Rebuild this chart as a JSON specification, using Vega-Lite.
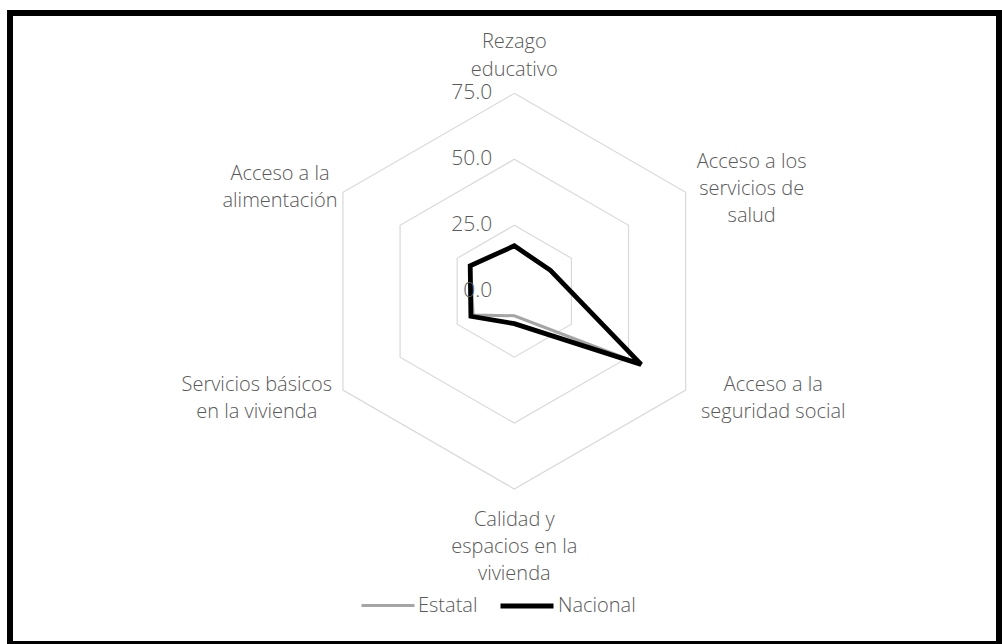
{
  "$schema": "https://vega.github.io/schema/vega-lite/v6.json",
  "width": 1002,
  "height": 644,
  "autosize": {"type": "fit", "contains": "padding"},
  "padding": {"left": 10, "top": 13, "right": 3, "bottom": 0},
  "background": "white",
  "config": {
    "view": {"stroke": "#000000", "strokeWidth": 6},
    "font": "Open Sans",
    "legend": {
      "orient": "none",
      "legendX": 350,
      "legendY": 564,
      "direction": "horizontal",
      "symbolType": "stroke",
      "symbolSize": 2809,
      "labelFontSize": 20,
      "labelFont": "Open Sans",
      "labelFontWeight": 300,
      "labelColor": "#595959",
      "labelOffset": 2,
      "columnPadding": 12,
      "padding": 0,
      "title": null
    }
  },
  "datasets": {
    "series": [
      {"serie": "Estatal", "indicador": "Rezago educativo", "orden": 0, "valor": 17.2},
      {"serie": "Estatal", "indicador": "Acceso a los servicios de salud", "orden": 1, "valor": 15.8},
      {"serie": "Estatal", "indicador": "Acceso a la seguridad social", "orden": 2, "valor": 55.0},
      {"serie": "Estatal", "indicador": "Calidad y espacios en la vivienda", "orden": 3, "valor": 9.3},
      {"serie": "Estatal", "indicador": "Servicios básicos en la vivienda", "orden": 4, "valor": 18.0},
      {"serie": "Estatal", "indicador": "Acceso a la alimentación", "orden": 5, "valor": 19.3},
      {"serie": "Nacional", "indicador": "Rezago educativo", "orden": 0, "valor": 17.2},
      {"serie": "Nacional", "indicador": "Acceso a los servicios de salud", "orden": 1, "valor": 15.8},
      {"serie": "Nacional", "indicador": "Acceso a la seguridad social", "orden": 2, "valor": 55.5},
      {"serie": "Nacional", "indicador": "Calidad y espacios en la vivienda", "orden": 3, "valor": 12.3},
      {"serie": "Nacional", "indicador": "Servicios básicos en la vivienda", "orden": 4, "valor": 19.0},
      {"serie": "Nacional", "indicador": "Acceso a la alimentación", "orden": 5, "valor": 19.3}
    ],
    "grid": [
      {"nivel": 25, "orden": 0}, {"nivel": 25, "orden": 1}, {"nivel": 25, "orden": 2},
      {"nivel": 25, "orden": 3}, {"nivel": 25, "orden": 4}, {"nivel": 25, "orden": 5},
      {"nivel": 50, "orden": 0}, {"nivel": 50, "orden": 1}, {"nivel": 50, "orden": 2},
      {"nivel": 50, "orden": 3}, {"nivel": 50, "orden": 4}, {"nivel": 50, "orden": 5},
      {"nivel": 75, "orden": 0}, {"nivel": 75, "orden": 1}, {"nivel": 75, "orden": 2},
      {"nivel": 75, "orden": 3}, {"nivel": 75, "orden": 4}, {"nivel": 75, "orden": 5}
    ],
    "ticks": [{"valor": 0}, {"valor": 25}, {"valor": 50}, {"valor": 75}],
    "labels": [
      {"orden": 0, "texto": ["Rezago", "educativo"]},
      {"orden": 1, "texto": ["Acceso a los", "servicios de", "salud"]},
      {"orden": 2, "texto": ["Acceso a la", "seguridad social"]},
      {"orden": 3, "texto": ["Calidad y", "espacios en la", "vivienda"]},
      {"orden": 4, "texto": ["Servicios básicos", "en la vivienda"]},
      {"orden": 5, "texto": ["Acceso a la", "alimentación"]}
    ]
  },
  "encoding": {
    "x": {"field": "px", "type": "quantitative", "scale": {"domain": [-191.17, 183.74], "nice": false, "zero": false}, "axis": null},
    "y": {"field": "py", "type": "quantitative", "scale": {"domain": [-133.74, 105.46], "nice": false, "zero": false}, "axis": null}
  },
  "layer": [
    {
      "data": {"name": "grid"},
      "transform": [
        {"calculate": "datum.nivel * sin(datum.orden * PI / 3)", "as": "px"},
        {"calculate": "datum.nivel * cos(datum.orden * PI / 3)", "as": "py"}
      ],
      "mark": {"type": "line", "interpolate": "linear-closed", "stroke": "#d9d9d9", "strokeWidth": 1.2},
      "encoding": {
        "detail": {"field": "nivel", "type": "nominal"},
        "order": {"field": "orden", "type": "quantitative"}
      }
    },
    {
      "data": {"name": "series"},
      "transform": [
        {"filter": "datum.serie == 'Estatal'"},
        {"calculate": "datum.valor * sin(datum.orden * PI / 3)", "as": "px"},
        {"calculate": "datum.valor * cos(datum.orden * PI / 3)", "as": "py"}
      ],
      "mark": {"type": "line", "interpolate": "linear-closed"},
      "encoding": {
        "color": {"field": "serie", "type": "ordinal", "scale": {"domain": ["Estatal", "Nacional"], "range": ["#a5a5a5", "#000000"]}},
        "strokeWidth": {"field": "serie", "type": "ordinal", "scale": {"domain": ["Estatal", "Nacional"], "range": [3, 4.8]}},
        "order": {"field": "orden", "type": "quantitative"}
      }
    },
    {
      "data": {"name": "series"},
      "transform": [
        {"filter": "datum.serie == 'Nacional'"},
        {"calculate": "datum.valor * sin(datum.orden * PI / 3)", "as": "px"},
        {"calculate": "datum.valor * cos(datum.orden * PI / 3)", "as": "py"}
      ],
      "mark": {"type": "line", "interpolate": "linear-closed"},
      "encoding": {
        "color": {"field": "serie", "type": "ordinal", "scale": {"domain": ["Estatal", "Nacional"], "range": ["#a5a5a5", "#000000"]}},
        "strokeWidth": {"field": "serie", "type": "ordinal", "scale": {"domain": ["Estatal", "Nacional"], "range": [3, 4.8]}},
        "order": {"field": "orden", "type": "quantitative"}
      }
    },
    {
      "data": {"name": "ticks"},
      "transform": [
        {"calculate": "0", "as": "px"},
        {"calculate": "datum.valor", "as": "py"}
      ],
      "mark": {"type": "text", "align": "right", "baseline": "middle", "dx": -22, "fontSize": 21, "fontWeight": 300, "color": "#595959"},
      "encoding": {"text": {"field": "valor", "type": "quantitative", "format": ".1f"}}
    },
    {
      "data": {"name": "labels"},
      "transform": [
        {"filter": "datum.orden == 0"},
        {"calculate": "75 * sin(datum.orden * PI / 3)", "as": "px"},
        {"calculate": "75 * cos(datum.orden * PI / 3)", "as": "py"}
      ],
      "mark": {"type": "text", "align": "center", "baseline": "alphabetic", "dx": 0, "dy": -45, "lineHeight": 28, "fontSize": 20, "fontWeight": 300, "color": "#595959"},
      "encoding": {"text": {"field": "texto"}}
    },
    {
      "data": {"name": "labels"},
      "transform": [
        {"filter": "datum.orden == 1"},
        {"calculate": "75 * sin(datum.orden * PI / 3)", "as": "px"},
        {"calculate": "75 * cos(datum.orden * PI / 3)", "as": "py"}
      ],
      "mark": {"type": "text", "align": "center", "baseline": "alphabetic", "dx": 66, "dy": -24.5, "lineHeight": 27, "fontSize": 20, "fontWeight": 300, "color": "#595959"},
      "encoding": {"text": {"field": "texto"}}
    },
    {
      "data": {"name": "labels"},
      "transform": [
        {"filter": "datum.orden == 2"},
        {"calculate": "75 * sin(datum.orden * PI / 3)", "as": "px"},
        {"calculate": "75 * cos(datum.orden * PI / 3)", "as": "py"}
      ],
      "mark": {"type": "text", "align": "center", "baseline": "alphabetic", "dx": 87.6, "dy": 0.5, "lineHeight": 27, "fontSize": 20, "fontWeight": 300, "color": "#595959"},
      "encoding": {"text": {"field": "texto"}}
    },
    {
      "data": {"name": "labels"},
      "transform": [
        {"filter": "datum.orden == 3"},
        {"calculate": "75 * sin(datum.orden * PI / 3)", "as": "px"},
        {"calculate": "75 * cos(datum.orden * PI / 3)", "as": "py"}
      ],
      "mark": {"type": "text", "align": "center", "baseline": "alphabetic", "dx": 0, "dy": 36.6, "lineHeight": 27, "fontSize": 20, "fontWeight": 300, "color": "#595959"},
      "encoding": {"text": {"field": "texto"}}
    },
    {
      "data": {"name": "labels"},
      "transform": [
        {"filter": "datum.orden == 4"},
        {"calculate": "75 * sin(datum.orden * PI / 3)", "as": "px"},
        {"calculate": "75 * cos(datum.orden * PI / 3)", "as": "py"}
      ],
      "mark": {"type": "text", "align": "center", "baseline": "alphabetic", "dx": -86.2, "dy": 0.5, "lineHeight": 27, "fontSize": 20, "fontWeight": 300, "color": "#595959"},
      "encoding": {"text": {"field": "texto"}}
    },
    {
      "data": {"name": "labels"},
      "transform": [
        {"filter": "datum.orden == 5"},
        {"calculate": "75 * sin(datum.orden * PI / 3)", "as": "px"},
        {"calculate": "75 * cos(datum.orden * PI / 3)", "as": "py"}
      ],
      "mark": {"type": "text", "align": "center", "baseline": "alphabetic", "dx": -63, "dy": -12, "lineHeight": 27, "fontSize": 20, "fontWeight": 300, "color": "#595959"},
      "encoding": {"text": {"field": "texto"}}
    }
  ]
}
